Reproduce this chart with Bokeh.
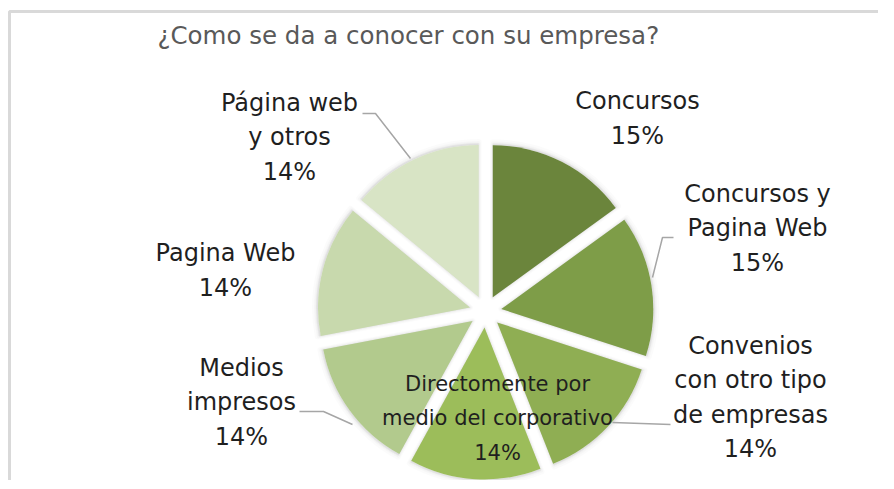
import math
from bokeh.plotting import figure
from bokeh.models import ColumnDataSource, Range1d
from bokeh.core.properties import value
from bokeh.embed import file_html
from bokeh.resources import INLINE

# ---- data ----
title_text = "¿Como se da a conocer con su empresa?"
categories = [
    "Concursos",
    "Concursos y\nPagina Web",
    "Convenios\ncon otro tipo\nde empresas",
    "Directomente por\nmedio del corporativo",
    "Medios\nimpresos",
    "Pagina Web",
    "Página web\ny otros",
]
percents = [15, 15, 14, 14, 14, 14, 14]
colors = ["#6b853c", "#7e9d48", "#8fae53", "#9cbd5a", "#b2ca8d", "#c8d9ad", "#d8e4c5"]

# ---- layout (pixel coordinates of the picture, y downwards) ----
CX, CY, R, EXPLODE = 485, 311, 152, 16
label_pos = [(637, 118), (757, 228), (750, 397), (497, 418), (241, 402), (225, 270), (289, 137)]
label_size = ["24px", "24px", "24px", "21px", "24px", "24px", "24px"]
label_lh = [1.22, 1.22, 1.22, 1.42, 1.22, 1.22, 1.22]
leaders = [
    None,
    ([673, 662, 652], [237, 237, 277]),
    ([612, 670], [422, 424]),
    None,
    ([299, 323, 352], [411, 411, 424]),
    None,
    ([362, 375, 410], [113, 113, 158]),
]

W, H = 878, 480
p = figure(width=W, height=H, output_backend="svg", toolbar_location=None,
           x_range=Range1d(0, W), y_range=Range1d(-H, 0),
           x_axis_type=None, y_axis_type=None, min_border=0)
p.grid.visible = False
p.outline_line_color = None
p.background_fill_color = "white"
p.border_fill_color = "white"

# chart frame (left and top border)
p.line([9, 9, W], [-H, -11, -11], line_color="#d9d9d9", line_width=3)

# ---- slices ----
total = sum(percents)
starts, ends, xs, ys = [], [], [], []
acc = 0.0
for v in percents:
    a0 = acc / total * 2 * math.pi
    acc += v
    a1 = acc / total * 2 * math.pi
    mid = (a0 + a1) / 2
    xs.append(CX + EXPLODE * math.sin(mid))
    ys.append(-CY + EXPLODE * math.cos(mid))
    starts.append(math.pi / 2 - a1)
    ends.append(math.pi / 2 - a0)

src = ColumnDataSource(dict(x=xs, y=ys, start=starts, end=ends, color=colors))

# soft shadow
for extra, alpha in [(6, 0.015), (4, 0.02), (2, 0.03)]:
    p.wedge(x="x", y="y", radius=R + extra / 2, start_angle="start", end_angle="end",
            source=src, fill_color="black", fill_alpha=alpha, line_color="black",
            line_alpha=alpha, line_width=extra, line_join="round")

p.wedge(x="x", y="y", radius=R, start_angle="start", end_angle="end",
        source=src, fill_color="color", line_color=None)

# ---- leader lines ----
for ld in leaders:
    if ld is not None:
        p.line(ld[0], [-v for v in ld[1]], line_color="#a6a6a6", line_width=1.5)

# ---- labels ----
for cat, pct, (lx, ly), fs, lh in zip(categories, percents, label_pos, label_size, label_lh):
    p.text(x=[lx], y=[-ly], text=[f"{cat}\n{pct}%"], text_align="center",
           text_baseline="middle", text_font=value("DejaVu Sans"),
           text_font_size=fs, text_color="#1f1f1f", text_line_height=lh)

# ---- title ----
p.text(x=[157], y=[-35], text=[title_text], text_align="left", text_baseline="middle",
       text_font=value("DejaVu Sans"), text_font_size="24.5px", text_color="#595959")

open("out.html", "w").write(file_html(p, INLINE))
